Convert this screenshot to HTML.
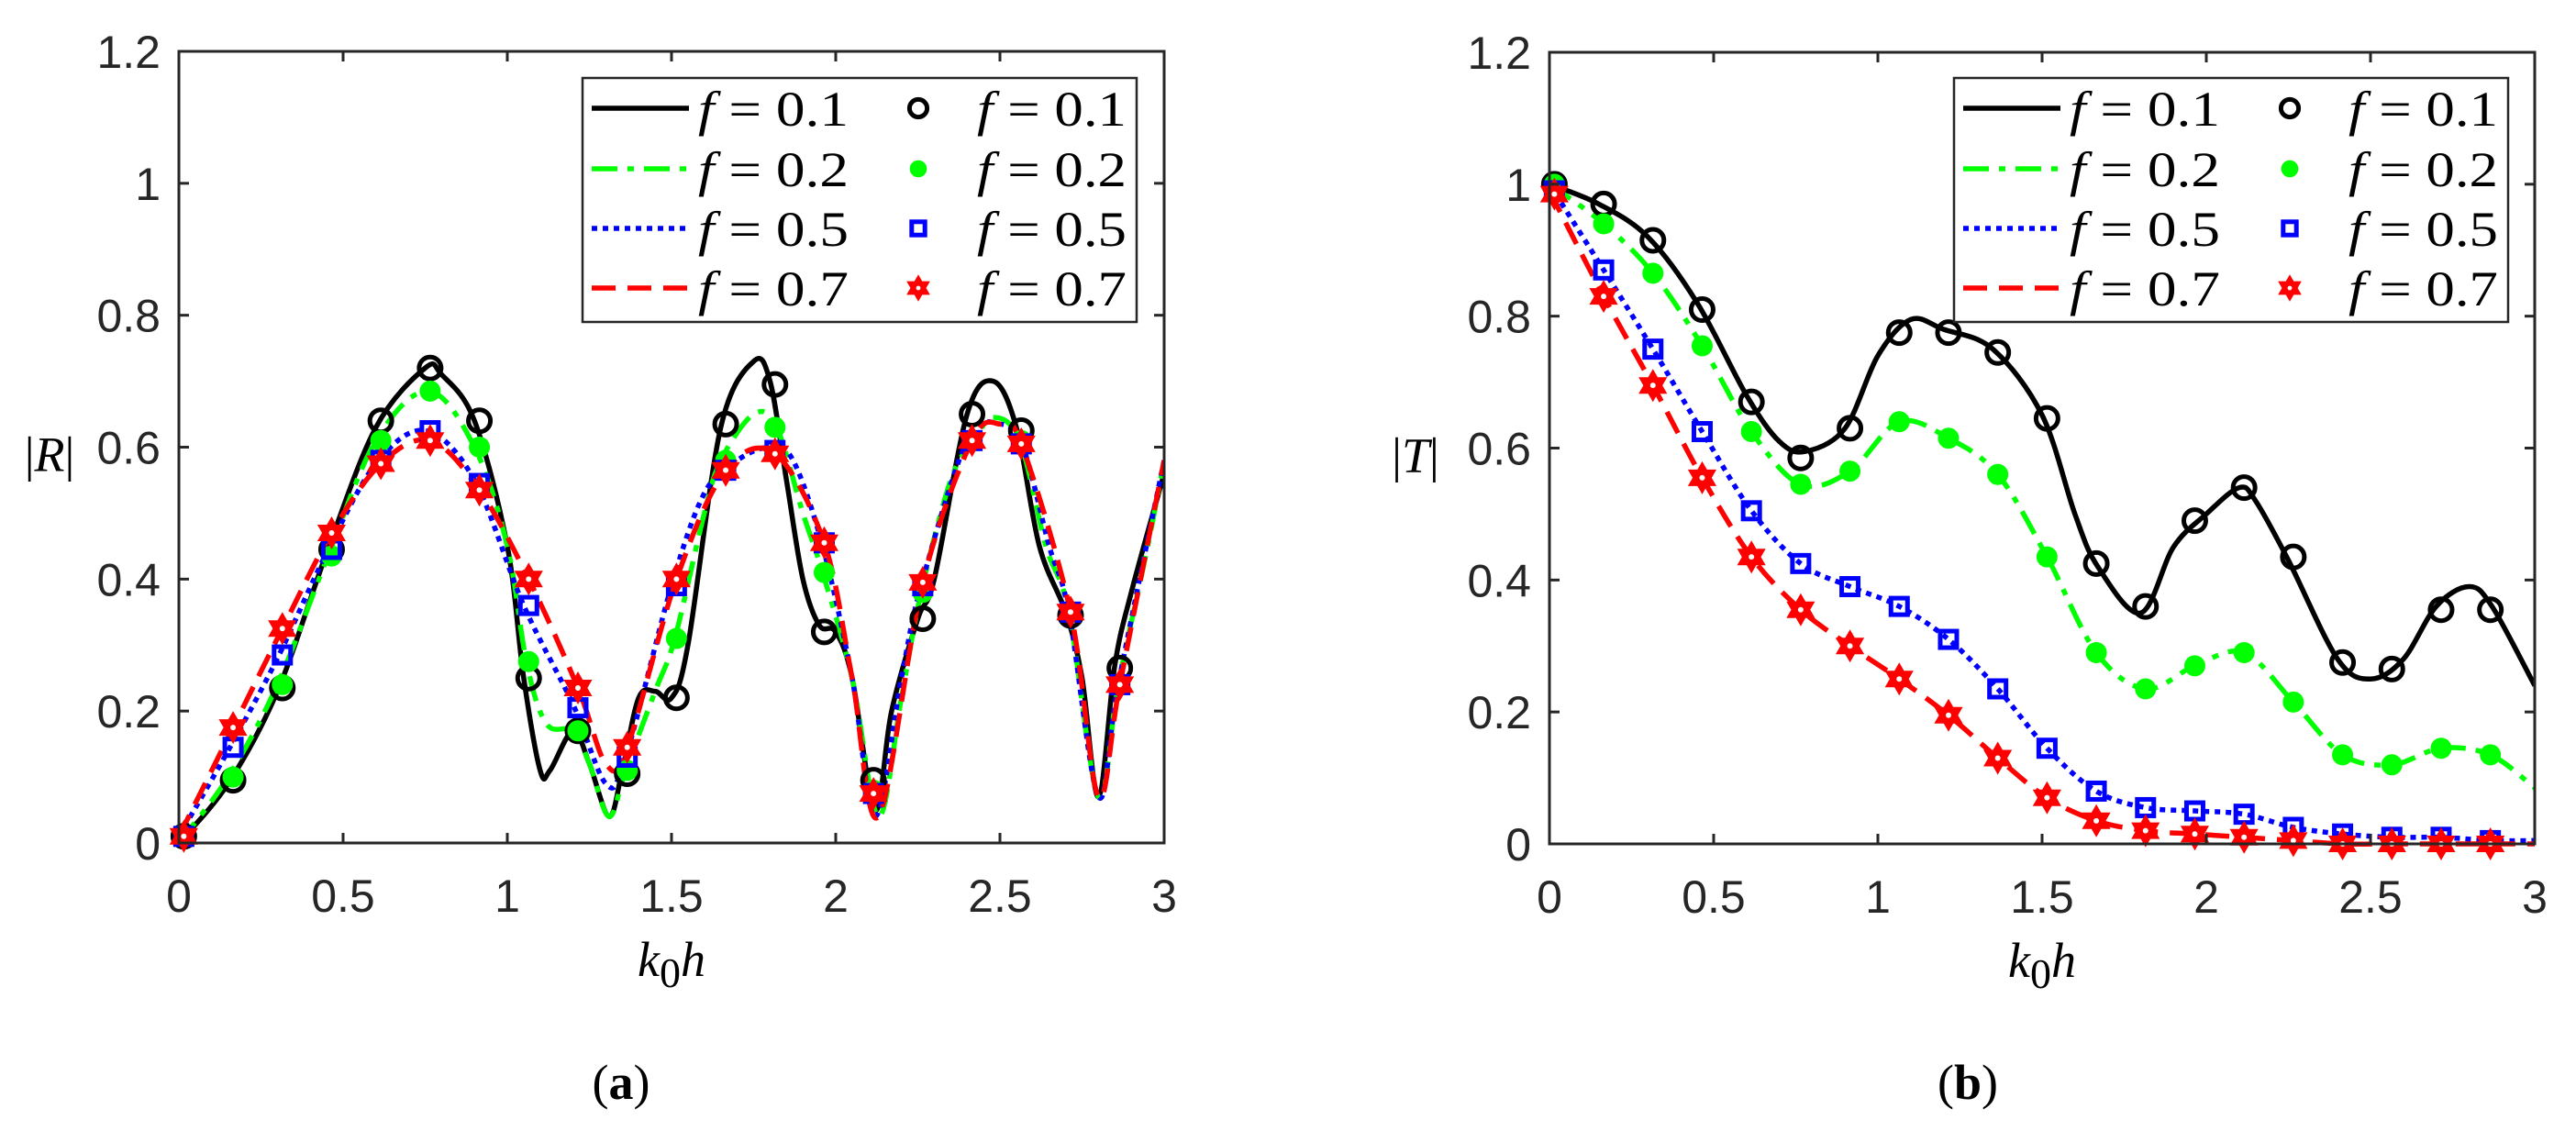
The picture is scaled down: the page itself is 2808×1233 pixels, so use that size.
<!DOCTYPE html>
<html><head><meta charset="utf-8"><style>
html,body{margin:0;padding:0;background:#fff;}
svg{display:block;}
.tick{font-family:"Liberation Sans",sans-serif;font-size:50px;fill:#262626;}
.lg{font-family:"Liberation Serif",serif;font-size:54px;fill:#000;}
</style></head><body>
<svg id="fig" width="2808" height="1233" viewBox="0 0 2808 1233" xmlns="http://www.w3.org/2000/svg"></svg>
<script>
// ---------- data (panel a: |R|) ----------
const markerX = [0.015,0.165,0.315,0.465,0.615,0.765,0.915,1.065,1.215,1.365,1.515,1.665,1.815,1.965,2.115,2.265,2.415,2.565,2.715,2.865];
const xTicks = [0,0.5,1,1.5,2,2.5,3];
const xTickLabels = ["0","0.5","1","1.5","2","2.5","3"];
const yTicks = [0,0.2,0.4,0.6,0.8,1,1.2];
const yTickLabels = ["0","0.2","0.4","0.6","0.8","1","1.2"];
const seriesLabels = ["f = 0.1","f = 0.2","f = 0.5","f = 0.7"];

const R1x = [0,0.15,0.3,0.45,0.6,0.75,0.8,0.9,1.0,1.05,1.1,1.13,1.2,1.25,1.31,1.35,1.4,1.45,1.5,1.55,1.65,1.75,1.8,1.85,1.9,1.95,2.0,2.05,2.12,2.17,2.25,2.3,2.4,2.48,2.55,2.62,2.7,2.75,2.8,2.85,2.9,3.0];
const R1y = [0,0.09,0.23,0.44,0.63,0.72,0.71,0.64,0.45,0.25,0.11,0.11,0.17,0.12,0.04,0.11,0.22,0.23,0.22,0.30,0.63,0.73,0.70,0.55,0.40,0.33,0.32,0.25,0.05,0.20,0.34,0.40,0.65,0.70,0.63,0.45,0.35,0.25,0.07,0.27,0.38,0.56];
const R1m = [0.01,0.095,0.235,0.445,0.64,0.72,0.64,0.25,0.17,0.105,0.22,0.635,0.695,0.32,0.095,0.34,0.65,0.625,0.345,0.265];

const R2x = [0,0.15,0.3,0.45,0.6,0.76,0.9,1.0,1.06,1.12,1.2,1.25,1.31,1.36,1.45,1.51,1.6,1.65,1.75,1.82,1.9,1.96,2.05,2.13,2.2,2.26,2.35,2.42,2.48,2.56,2.64,2.71,2.8,2.86,2.95,3.0];
const R2y = [0,0.1,0.24,0.43,0.61,0.685,0.6,0.45,0.27,0.18,0.17,0.12,0.04,0.11,0.23,0.31,0.5,0.58,0.65,0.63,0.5,0.41,0.25,0.04,0.22,0.38,0.55,0.61,0.645,0.61,0.45,0.35,0.07,0.24,0.45,0.58];
const R2m = [0.01,0.1,0.24,0.435,0.61,0.685,0.6,0.275,0.17,0.11,0.31,0.58,0.63,0.41,0.08,0.38,0.61,0.61,0.35,0.24];

const R3x = [0,0.15,0.3,0.45,0.6,0.75,0.9,1.05,1.2,1.3,1.36,1.5,1.6,1.7,1.8,1.87,1.96,2.05,2.12,2.2,2.26,2.4,2.5,2.57,2.65,2.71,2.8,2.86,3.0];
const R3y = [0.01,0.14,0.28,0.44,0.575,0.625,0.55,0.36,0.21,0.09,0.13,0.39,0.53,0.58,0.60,0.58,0.45,0.25,0.04,0.25,0.39,0.61,0.635,0.6,0.45,0.35,0.07,0.24,0.58];
const R3m = [0.01,0.145,0.285,0.445,0.58,0.625,0.545,0.36,0.205,0.13,0.39,0.565,0.595,0.455,0.075,0.39,0.61,0.605,0.35,0.24];

const R4x = [0,0.165,0.315,0.465,0.615,0.765,0.915,1.065,1.215,1.3,1.365,1.515,1.665,1.815,1.965,2.05,2.13,2.265,2.415,2.5,2.565,2.715,2.8,2.865,3.0];
const R4y = [0.01,0.175,0.325,0.47,0.575,0.61,0.535,0.40,0.235,0.12,0.145,0.40,0.565,0.59,0.455,0.25,0.04,0.395,0.61,0.635,0.605,0.35,0.07,0.24,0.58];
const R4m = [0.01,0.175,0.325,0.47,0.575,0.61,0.535,0.40,0.235,0.145,0.40,0.565,0.59,0.455,0.075,0.395,0.61,0.605,0.35,0.24];

// ---------- data (panel b: |T|) ----------
const T1x = [0,0.15,0.3,0.45,0.6,0.7,0.78,0.9,1.0,1.1,1.2,1.35,1.5,1.6,1.67,1.8,1.9,2.0,2.1,2.15,2.25,2.4,2.5,2.6,2.7,2.8,2.87,3.0];
const T1y = [1.0,0.97,0.92,0.82,0.68,0.61,0.595,0.63,0.74,0.795,0.78,0.75,0.65,0.5,0.42,0.35,0.45,0.5,0.54,0.52,0.43,0.28,0.25,0.28,0.36,0.39,0.36,0.24];
const T1m = [1.0,0.97,0.915,0.81,0.67,0.585,0.63,0.775,0.775,0.745,0.645,0.425,0.36,0.49,0.54,0.435,0.275,0.265,0.355,0.355];

const T2x = [0,0.165,0.315,0.465,0.615,0.765,0.915,1.065,1.215,1.365,1.515,1.665,1.815,1.965,2.115,2.265,2.415,2.565,2.715,2.865,3.0];
const T2y = [1.0,0.94,0.865,0.755,0.625,0.545,0.565,0.64,0.615,0.56,0.435,0.29,0.235,0.27,0.29,0.215,0.135,0.12,0.145,0.135,0.085];
const T2m = [1.0,0.94,0.865,0.755,0.625,0.545,0.565,0.64,0.615,0.56,0.435,0.29,0.235,0.27,0.29,0.215,0.135,0.12,0.145,0.135];

const T3x = [0,0.165,0.315,0.465,0.615,0.765,0.915,1.065,1.215,1.365,1.515,1.665,1.815,1.965,2.115,2.265,2.415,2.565,2.715,2.865,3.0];
const T3y = [1.0,0.87,0.75,0.625,0.505,0.425,0.39,0.36,0.31,0.235,0.145,0.08,0.055,0.05,0.045,0.025,0.015,0.01,0.01,0.005,0.005];
const T3m = [0.99,0.87,0.75,0.625,0.505,0.425,0.39,0.36,0.31,0.235,0.145,0.08,0.055,0.05,0.045,0.025,0.015,0.01,0.01,0.005];

const T4x = [0,0.165,0.315,0.465,0.615,0.765,0.915,1.065,1.215,1.365,1.515,1.665,1.815,1.965,2.115,2.265,2.415,2.565,2.715,2.865,3.0];
const T4y = [0.99,0.83,0.695,0.555,0.435,0.355,0.3,0.25,0.195,0.13,0.07,0.035,0.02,0.015,0.01,0.005,0,0,0,0,0];
const T4m = [0.985,0.83,0.695,0.555,0.435,0.355,0.3,0.25,0.195,0.13,0.07,0.035,0.02,0.015,0.01,0.005,0,0,0,0];

// ---------- drawing ----------
const NS = "http://www.w3.org/2000/svg";
const svg = document.getElementById("fig");
function mk(tag, attrs, parent){
  const e = document.createElementNS(NS, tag);
  for (const k in attrs) e.setAttribute(k, attrs[k]);
  (parent||svg).appendChild(e);
  return e;
}
const styles = [
  {color:"#000000", dash:"none"},
  {color:"#00ff00", dash:"28 11 7 11"},
  {color:"#0000ff", dash:"6 6"},
  {color:"#ff0000", dash:"26 13"}
];
function spline(px, py){
  let d = "M"+px[0].toFixed(1)+","+py[0].toFixed(1);
  for (let i=0;i<px.length-1;i++){
    const x0=px[Math.max(i-1,0)], y0=py[Math.max(i-1,0)];
    const x1=px[i], y1=py[i], x2=px[i+1], y2=py[i+1];
    const x3=px[Math.min(i+2,px.length-1)], y3=py[Math.min(i+2,px.length-1)];
    const c1x=x1+(x2-x0)/6, c1y=y1+(y2-y0)/6, c2x=x2-(x3-x1)/6, c2y=y2-(y3-y1)/6;
    d += " C"+c1x.toFixed(1)+","+c1y.toFixed(1)+" "+c2x.toFixed(1)+","+c2y.toFixed(1)+" "+x2.toFixed(1)+","+y2.toFixed(1);
  }
  return d;
}
function marker(g, type, cx, cy, small){
  const s = small ? 0.8 : 1;
  let el;
  if (type===0){
    el = mk("circle",{cx:cx,cy:cy,r:12*s,fill:"none",stroke:"#000","stroke-width":5},g);
  } else if (type===1){
    el = mk("circle",{cx:cx,cy:cy,r:11*s,fill:"#00ff00",stroke:"#00ff00","stroke-width":1},g);
  } else if (type===2){
    const h=9*s;
    el = mk("rect",{x:cx-h,y:cy-h,width:2*h,height:2*h,fill:"none",stroke:"#0000ff","stroke-width":5},g);
  } else {
    const r=16*s; let p1="",p2="";
    for (let k=0;k<3;k++){
      const a1=-Math.PI/2+k*2*Math.PI/3, a2=Math.PI/2+k*2*Math.PI/3;
      p1+=(cx+r*Math.cos(a1)).toFixed(1)+","+(cy+r*Math.sin(a1)).toFixed(1)+" ";
      p2+=(cx+r*Math.cos(a2)).toFixed(1)+","+(cy+r*Math.sin(a2)).toFixed(1)+" ";
    }
    el = mk("g",{},g);
    mk("polygon",{points:p1,fill:"#ff0000",stroke:"#ff0000","stroke-width":2},el);
    mk("polygon",{points:p2,fill:"#ff0000",stroke:"#ff0000","stroke-width":2},el);
    mk("circle",{cx:cx,cy:cy,r:3*s,fill:"#ffffff"},el);
  }
  return el;
}

function panel(cfg){
  const L=cfg.L, Rr=cfg.R, T=cfg.T, B=cfg.B;
  const xs = v => L + v/3*(Rr-L);
  const ys = v => B - v/1.2*(B-T);
  const g = mk("g",{});
  
  
  mk("rect",{x:L,y:T,width:Rr-L,height:B-T,fill:"#fff"},g);
  const clipId = cfg.name+"-clip";
  const defs = mk("defs",{},g);
  const cp = mk("clipPath",{id:clipId},defs);
  mk("rect",{x:L-20,y:T,width:Rr-L+20,height:B-T+20},cp);
  const plot = mk("g",{"clip-path":"url(#"+clipId+")"},g);
  for (let s=0;s<4;s++){
    const px = cfg.lx[s].map(xs), py = cfg.ly[s].map(ys);
    const p = mk("path",{d:spline(px,py),fill:"none",stroke:styles[s].color,"stroke-width":5.5,"stroke-dasharray":styles[s].dash,"stroke-linejoin":"round"},plot);
    
    
  }
  for (let s=0;s<4;s++){
    for (let i=0;i<markerX.length;i++){
      const m = marker(plot, s, xs(markerX[i]), ys(cfg.m[s][i]), false);
      
      
    }
  }
  const ax = mk("rect",{x:L,y:T,width:Rr-L,height:B-T,fill:"none",stroke:"#262626","stroke-width":3},g);
  
  
  xTicks.forEach((v,i)=>{
    const x=xs(v);
    mk("line",{x1:x,y1:B,x2:x,y2:B-11,stroke:"#262626","stroke-width":3},g);
    mk("line",{x1:x,y1:T,x2:x,y2:T+11,stroke:"#262626","stroke-width":3},g);
    const t=mk("text",{x:x,y:B+75,"text-anchor":"middle",class:"tick"},g);
    t.textContent=xTickLabels[i];
    
    
  });
  yTicks.forEach((v,i)=>{
    const y=ys(v);
    mk("line",{x1:L,y1:y,x2:L+11,y2:y,stroke:"#262626","stroke-width":3},g);
    mk("line",{x1:Rr,y1:y,x2:Rr-11,y2:y,stroke:"#262626","stroke-width":3},g);
    const t=mk("text",{x:L-20,y:y+18,"text-anchor":"end",class:"tick"},g);
    t.textContent=yTickLabels[i];
    
    
  });
  const xl=mk("text",{x:(L+Rr)/2,y:B+145,"text-anchor":"middle",class:"lg","font-style":"italic","font-size":"68"},g);
  xl.innerHTML='k<tspan font-style="normal" font-size="46" dy="12">0</tspan><tspan dy="-12">h</tspan>';
  
  
  const yl=mk("text",{x:cfg.ylx,y:ys(0.6)+26,"text-anchor":"middle",class:"lg","font-size":"74"},g);
  yl.innerHTML='|<tspan font-style="italic">'+cfg.yname+'</tspan>|';
  
  
  const cap=mk("text",{x:cfg.capx,y:1198,"text-anchor":"middle",class:"lg","font-size":"78"},g);
  cap.innerHTML='(<tspan font-weight="bold">'+cfg.cap+'</tspan>)';
  
  
  const lg = mk("g",{},g);
  
  
  const lx=cfg.legX, ly=85, lw=cfg.legW, lh=266;
  mk("rect",{x:lx,y:ly,width:lw,height:lh,fill:"#fff",stroke:"#262626","stroke-width":2.5},lg);
  const rows=[118,184,249,314];
  for (let s=0;s<4;s++){
    const y=rows[s];
    const e = mk("g",{},lg);
    
    
    mk("line",{x1:lx+10,y1:y,x2:lx+116,y2:y,stroke:styles[s].color,"stroke-width":5.5,"stroke-dasharray":styles[s].dash},e);
    const t1=mk("text",{x:lx+126,y:y+19,class:"lg",textLength:164,lengthAdjust:"spacingAndGlyphs"},e);
    t1.innerHTML='<tspan font-style="italic">f</tspan> = '+seriesLabels[s].slice(4);
    marker(e, s, lx+366, y, true);
    const t2=mk("text",{x:lx+430,y:y+19,class:"lg",textLength:163,lengthAdjust:"spacingAndGlyphs"},e);
    t2.innerHTML='<tspan font-style="italic">f</tspan> = '+seriesLabels[s].slice(4);
  }
}

panel({name:"panel-a-reflection",L:195,R:1269,T:56,B:919,
  lx:[R1x,R2x,R3x,R4x], ly:[R1y,R2y,R3y,R4y], m:[R1m,R2m,R3m,R4m],
  yname:"R", ylx:54, cap:"a", capx:677, legX:635, legW:604});
panel({name:"panel-b-transmission",L:1689,R:2763,T:57,B:920,
  lx:[T1x,T2x,T3x,T4x], ly:[T1y,T2y,T3y,T4y], m:[T1m,T2m,T3m,T4m],
  yname:"T", ylx:1543, cap:"b", capx:2145, legX:2130, legW:604});
</script>
</body></html>
